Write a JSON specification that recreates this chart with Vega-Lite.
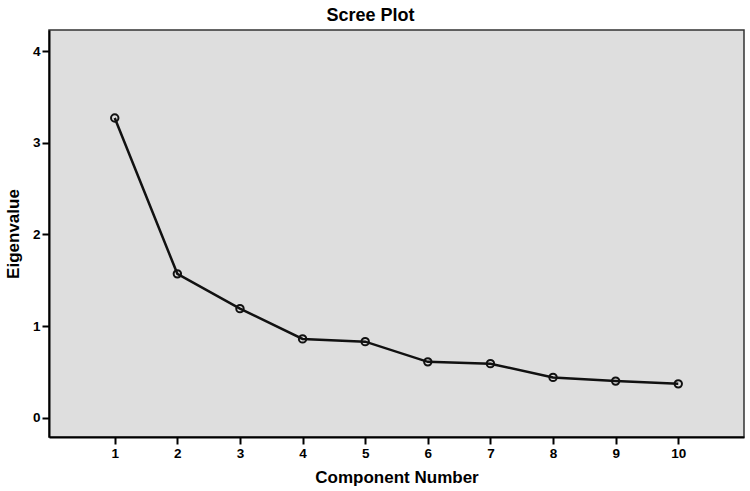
{
  "$schema": "https://vega.github.io/schema/vega-lite/v6.json",
  "width": 695,
  "height": 407,
  "autosize": {"type": "none"},
  "padding": {"left": 49, "top": 30, "right": 6, "bottom": 54},
  "background": "white",
  "title": {
    "text": "Scree Plot",
    "font": "Liberation Sans",
    "fontSize": 18,
    "fontWeight": "bold",
    "color": "#000000",
    "anchor": "middle",
    "dx": -26,
    "offset": 5
  },
  "config": {
    "view": {"fill": "#DEDEDE", "stroke": "#333333", "strokeWidth": 1.5},
    "axis": {
      "grid": false,
      "domainColor": "#000000",
      "domainWidth": 2,
      "tickColor": "#000000",
      "tickWidth": 2,
      "tickSize": 7,
      "labelFont": "Liberation Sans",
      "labelFontSize": 13.5,
      "labelFontWeight": "bold",
      "labelColor": "#000000",
      "labelPadding": 2,
      "titleFont": "Liberation Sans",
      "titleFontSize": 17,
      "titleFontWeight": "bold",
      "titleColor": "#000000"
    }
  },
  "data": {
    "values": [
      {"component": 1, "eigenvalue": 3.27},
      {"component": 2, "eigenvalue": 1.57},
      {"component": 3, "eigenvalue": 1.19},
      {"component": 4, "eigenvalue": 0.86},
      {"component": 5, "eigenvalue": 0.83},
      {"component": 6, "eigenvalue": 0.61},
      {"component": 7, "eigenvalue": 0.59},
      {"component": 8, "eigenvalue": 0.44},
      {"component": 9, "eigenvalue": 0.40},
      {"component": 10, "eigenvalue": 0.37}
    ]
  },
  "encoding": {
    "x": {
      "field": "component",
      "type": "quantitative",
      "title": "Component Number",
      "scale": {"domain": [-0.05, 11.05], "nice": false, "zero": false},
      "axis": {"values": [1, 2, 3, 4, 5, 6, 7, 8, 9, 10], "titlePadding": 10}
    },
    "y": {
      "field": "eigenvalue",
      "type": "quantitative",
      "title": "Eigenvalue",
      "scale": {"domain": [-0.21, 4.23], "nice": false, "zero": false},
      "axis": {"values": [0, 1, 2, 3, 4], "titlePadding": 10}
    }
  },
  "layer": [
    {"mark": {"type": "line", "color": "#111111", "strokeWidth": 2.5}},
    {"mark": {"type": "point", "shape": "circle", "filled": false, "color": "#111111", "strokeWidth": 2, "size": 55, "opacity": 1}}
  ]
}
